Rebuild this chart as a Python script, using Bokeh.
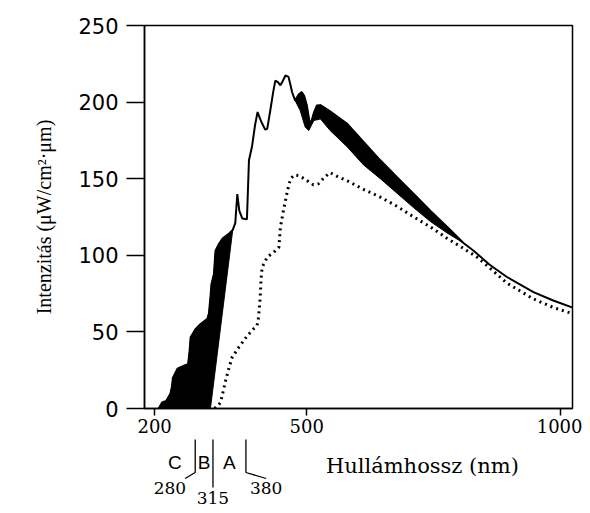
from bokeh.plotting import figure
from bokeh.layouts import column
from bokeh.models import Range1d, FixedTicker
from bokeh.core.properties import value
from bokeh.embed import file_html
from bokeh.resources import INLINE

# ---------------- data ----------------
# upper (solid) curve: wavelength (nm), intensity
upper_wl = [208, 215, 223, 231, 234, 236, 245, 258, 266, 269,
            271, 281, 290, 304, 307, 310, 312, 317, 320, 327,
            334, 346, 354, 359, 363, 367, 373, 382, 386, 392,
            398, 403, 408, 412, 418, 422, 428, 434, 438, 443,
            448, 453, 458, 464, 468, 471, 477, 484, 490, 495,
            500, 505, 508, 514, 520, 527, 533, 546, 579, 612,
            645, 678, 711, 744, 777, 809, 829, 860, 894, 947,
            986, 1023]
upper_val = [0, 4, 5, 9.6, 14, 20, 26, 28, 29, 38,
             46.5, 52, 55, 58.5, 62, 72.6, 81, 88, 103, 107.5,
             111, 114, 116.6, 121, 140, 129, 124, 123.5, 162, 171,
             185, 193.5, 189, 186, 182, 182.5, 194.5, 207, 214, 213,
             211, 214, 217.4, 216.4, 211, 206.6, 201, 205, 206.6, 204,
             198, 188, 186, 193, 197.8, 198, 196.8, 194, 186, 174,
             162, 151, 140, 129, 118.5, 108, 103, 94, 86, 76,
             70.5, 66]

# lower boundary of the black band in the UV part
uv_lower_wl = [310, 354]
uv_lower_val = [0, 116.6]

# lower boundary of the black band in the visible part
vis_lower_wl = [477, 487, 497, 504, 514, 527, 546, 579, 612, 645, 678, 711, 744, 777, 809]
vis_lower_val = [201, 194.5, 183.6, 181.5, 188, 189, 181.5, 171, 159, 150, 140.5, 131, 122, 114.5, 108]

# dotted curve
dot_wl = [318, 325, 330, 335, 340, 347, 353, 360, 366, 375,
          383, 395, 402, 405, 408, 410, 412, 422, 435, 445,
          448, 454, 462, 468, 476, 484, 495, 504, 513, 523,
          535, 546, 560, 579, 612, 645, 678, 711, 744, 777,
          809, 835, 860, 894, 947, 986, 1023]
dot_val = [0, 2, 4, 11, 18.3, 27, 33.5, 37, 40, 44,
           47.6, 52, 54, 59.6, 72, 85, 92.2, 98.8, 102, 105.3,
           118.3, 129.2, 142.3, 150, 152.5, 152, 150, 148, 146, 146.7,
           151, 154, 151.5, 148.8, 143, 138, 132, 125, 118.5, 111,
           104.5, 99, 92, 82, 71.5, 66, 62]

x_ticks = [200, 500, 1000]
y_ticks = [0, 50, 100, 150, 200, 250]

uv_start = 200
band_edges = [280, 315, 380]
band_edge_labels = ["280", "315", "380"]
band_names = ["C", "B", "A"]

# ---------------- main figure ----------------
p = figure(width=582, height=438, output_backend="svg", toolbar_location=None,
           x_range=Range1d(180, 1024), y_range=Range1d(0, 250),
           min_border_left=144, min_border_right=10, min_border_top=25,
           min_border_bottom=30)
p.grid.visible = False
p.outline_line_color = "black"
p.outline_line_width = 1.5
p.background_fill_color = "white"
p.border_fill_color = "white"

# black band polygons built from the curves
uv_x = [w for w in upper_wl if w <= uv_lower_wl[-1]] + uv_lower_wl[::-1]
uv_y = [v for w, v in zip(upper_wl, upper_val) if w <= uv_lower_wl[-1]] + uv_lower_val[::-1]
p.patch(uv_x, uv_y, fill_color="black", line_color="black", line_width=1)

lo, hi = vis_lower_wl[0], vis_lower_wl[-1]
vis_x = [w for w in upper_wl if lo <= w <= hi] + vis_lower_wl[::-1]
vis_y = [v for w, v in zip(upper_wl, upper_val) if lo <= w <= hi] + vis_lower_val[::-1]
p.patch(vis_x, vis_y, fill_color="black", line_color="black", line_width=1)

p.line(upper_wl, upper_val, line_color="black", line_width=2)
p.line(dot_wl, dot_val, line_color="black", line_width=3, line_dash="2 4")

p.xaxis.ticker = FixedTicker(ticks=x_ticks)
p.yaxis.ticker = FixedTicker(ticks=y_ticks)
for ax in (p.xaxis[0], p.yaxis[0]):
    ax.axis_line_color = "black"
    ax.axis_line_width = 1.5
    ax.major_tick_line_color = "black"
    ax.major_tick_line_width = 1.5
    ax.minor_tick_line_color = None
    ax.major_tick_in = 0
    ax.major_label_text_color = "black"

p.xaxis.major_tick_out = 7
p.xaxis.major_label_standoff = 3
p.xaxis.major_label_text_font = "DejaVu Serif"
p.xaxis.major_label_text_font_size = "18px"

p.yaxis.major_tick_out = 18
p.yaxis.major_label_standoff = 8
p.yaxis.major_label_text_font = "DejaVu Sans"
p.yaxis.major_label_text_font_size = "21px"
p.yaxis.axis_label = "Intenzitás (μW/cm²·μm)"
p.yaxis.axis_label_text_font = "Liberation Serif"
p.yaxis.axis_label_text_font_style = "normal"
p.yaxis.axis_label_text_font_size = "20px"
p.yaxis.axis_label_text_color = "black"
p.yaxis.axis_label_standoff = 20

# ---------------- band annotation strip ----------------
ann = figure(width=582, height=72, output_backend="svg", toolbar_location=None,
             x_range=p.x_range, y_range=Range1d(72, 0),
             x_axis_type=None, y_axis_type=None,
             min_border_left=144, min_border_right=10, min_border_top=0,
             min_border_bottom=0)
ann.grid.visible = False
ann.outline_line_color = None

tail_dx = [-20, 0, 40]
label_dx = [-50, 0, 40]
end_y = [40, 49, 40]
label_y = [49, 59, 49]
xs = [[e, e, e + d] for e, d in zip(band_edges, tail_dx)]
ys = [[1, 34, ey] for ey in end_y]
ann.multi_line(xs, ys, line_color="black", line_width=1.3)

ann.text(x=[e + d for e, d in zip(band_edges, label_dx)], y=label_y, text=band_edge_labels,
         text_font=value("DejaVu Serif"), text_font_size="17px", text_color="black",
         text_align="center", text_baseline="middle")

starts = [uv_start] + band_edges[:-1]
centers = [(a + b) / 2 for a, b in zip(starts, band_edges)]
ann.text(x=centers, y=[24] * 3, text=band_names,
         text_font=value("Liberation Sans"), text_font_size="19px", text_color="black",
         text_align="center", text_baseline="middle")

ann.text(x=[728], y=[27], text=["Hullámhossz (nm)"],
         text_font=value("DejaVu Serif"), text_font_size="21px", text_color="black",
         text_align="center", text_baseline="middle")

layout = column(p, ann, spacing=0)
open("out.html", "w").write(file_html(layout, INLINE))
